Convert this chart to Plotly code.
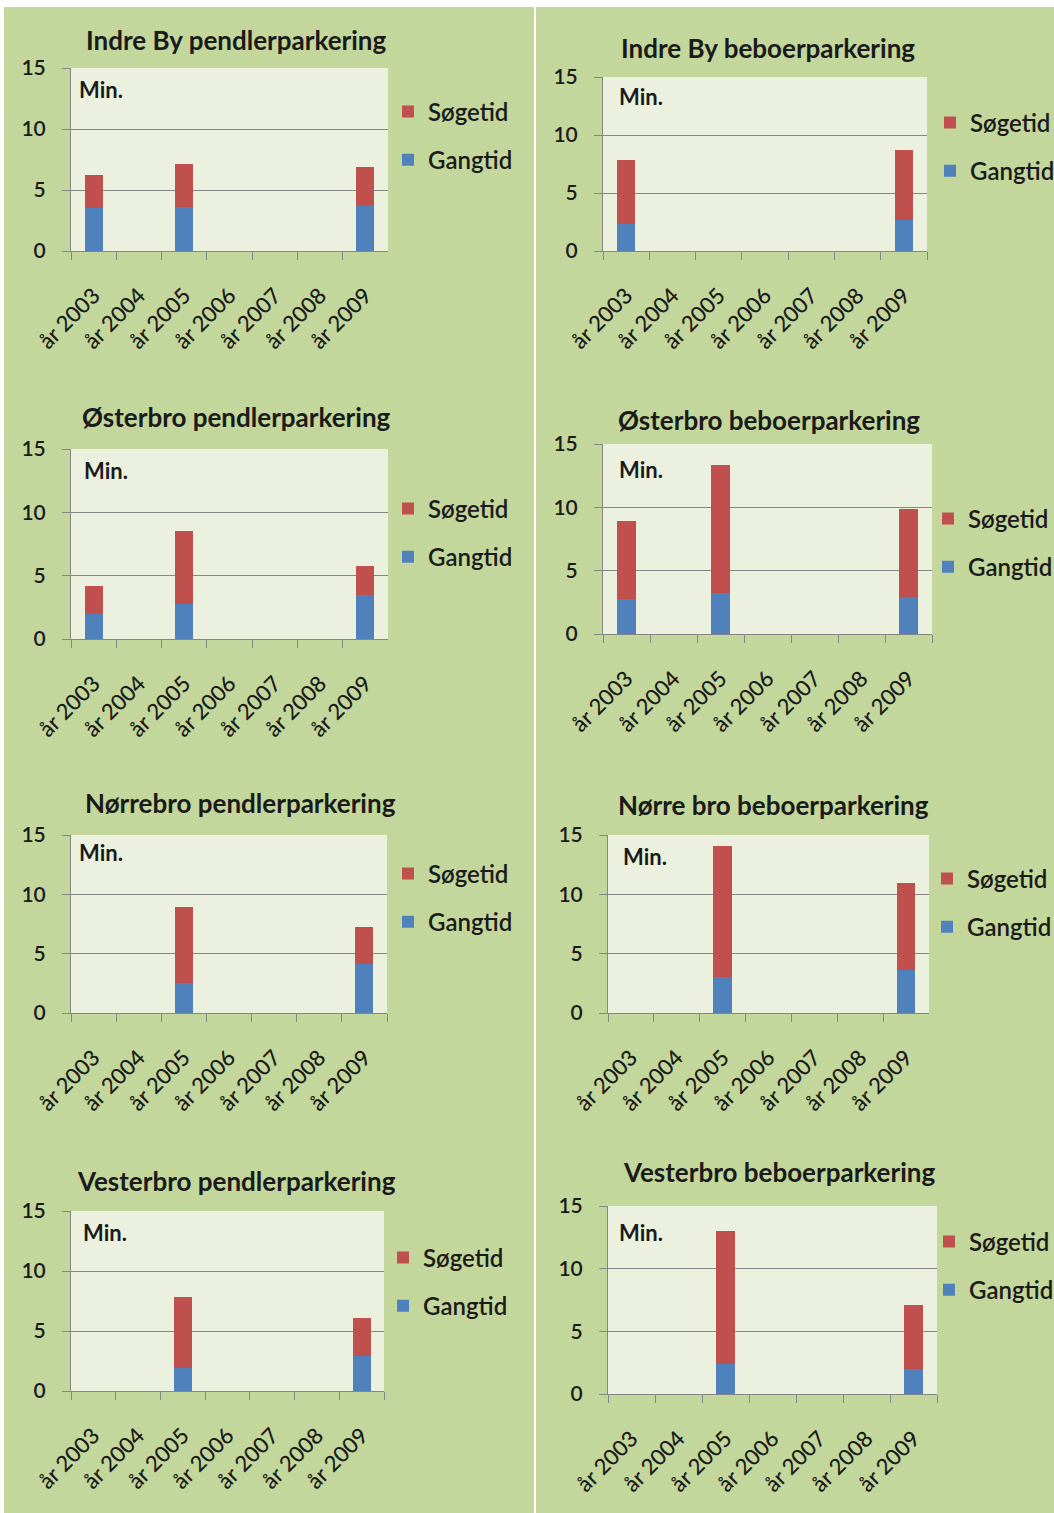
import plotly.graph_objects as go

W, H = 1054, 1513

years = ["år 2003", "år 2004", "år 2005", "år 2006", "år 2007", "år 2008", "år 2009"]

titles = [
    "Indre By pendlerparkering",
    "Indre By beboerparkering",
    "Østerbro pendlerparkering",
    "Østerbro beboerparkering",
    "Nørrebro pendlerparkering",
    "Nørre bro beboerparkering",
    "Vesterbro pendlerparkering",
    "Vesterbro beboerparkering",
]

# Gangtid (walking time) and Søgetid (search time), minutes
gang_indre_pendler = [3.5, None, 3.6, None, None, None, 3.7]
soeg_indre_pendler = [2.7, None, 3.5, None, None, None, 3.15]
gang_indre_beboer = [2.35, None, None, None, None, None, 2.7]
soeg_indre_beboer = [5.5, None, None, None, None, None, 6.05]
gang_oester_pendler = [2.0, None, 2.75, None, None, None, 3.45]
soeg_oester_pendler = [2.15, None, 5.75, None, None, None, 2.35]
gang_oester_beboer = [2.75, None, 3.25, None, None, None, 2.95]
soeg_oester_beboer = [6.15, None, 10.1, None, None, None, 6.9]
gang_noerre_pendler = [None, None, 2.5, None, None, None, 4.15]
soeg_noerre_pendler = [None, None, 6.4, None, None, None, 3.1]
gang_noerre_beboer = [None, None, 3.0, None, None, None, 3.6]
soeg_noerre_beboer = [None, None, 11.05, None, None, None, 7.35]
gang_vester_pendler = [None, None, 1.95, None, None, None, 2.9]
soeg_vester_pendler = [None, None, 5.85, None, None, None, 3.15]
gang_vester_beboer = [None, None, 2.4, None, None, None, 2.0]
soeg_vester_beboer = [None, None, 10.6, None, None, None, 5.1]

gang = [gang_indre_pendler, gang_indre_beboer, gang_oester_pendler, gang_oester_beboer,
        gang_noerre_pendler, gang_noerre_beboer, gang_vester_pendler, gang_vester_beboer]
soeg = [soeg_indre_pendler, soeg_indre_beboer, soeg_oester_pendler, soeg_oester_beboer,
        soeg_noerre_pendler, soeg_noerre_beboer, soeg_vester_pendler, soeg_vester_beboer]

y_ticks = [0, 5, 10, 15]

# layout in page pixels: plot area (x0, x1, y_top, y_bottom)
areas = [
    (71, 388, 68, 251),
    (603, 927, 77, 251),
    (71, 388, 449, 639),
    (603, 932, 444, 634),
    (71, 387, 835, 1013),
    (608, 929, 835, 1013),
    (71, 384, 1211, 1391),
    (608, 937, 1206, 1394),
]
title_pos = [(236, 40), (768, 48), (236, 417), (769, 420),
             (240, 803), (773, 805), (236, 1181), (779, 1172)]
min_pos = [(77, 89), (617, 96), (82, 470), (617, 469),
           (77, 852), (621, 856), (81, 1232), (617, 1232)]
legend_pos = [(403, 136), (945, 147), (403, 533), (943, 543),
              (403, 898), (942, 903), (398, 1282), (944, 1266)]

FONT = "Lato, 'Open Sans', sans-serif"
TXT = "#1a1a1a"
GRID = "#868686"
RED = "#C0504D"
BLUE = "#4F81BD"


def px(x):
    return x / W


def py(y):
    return 1 - y / H


fig = go.Figure()
layout = dict(
    width=W, height=H,
    margin=dict(l=0, r=0, t=0, b=0, autoexpand=False),
    paper_bgcolor="#C3D69B",
    plot_bgcolor="#EBF1DE",
    barmode="stack",
    bargap=0.6,
    font=dict(family=FONT, color=TXT),
    annotations=[],
    shapes=[],
)

for i in range(8):
    k = i + 1
    xs = "x" if k == 1 else f"x{k}"
    ys = "y" if k == 1 else f"y{k}"
    lg = "legend" if k == 1 else f"legend{k}"
    fig.add_trace(go.Bar(x=years, y=gang[i], name="Gangtid", marker=dict(color=BLUE, line=dict(width=0)),
                         xaxis=xs, yaxis=ys, legend=lg, legendgroup=f"g{k}", legendrank=2,
                         hoverinfo="skip"))
    fig.add_trace(go.Bar(x=years, y=soeg[i], name="Søgetid", marker=dict(color=RED, line=dict(width=0)),
                         xaxis=xs, yaxis=ys, legend=lg, legendgroup=f"s{k}", legendrank=1,
                         hoverinfo="skip"))
    x0, x1, yt, yb = areas[i]
    xa = "xaxis" if k == 1 else f"xaxis{k}"
    ya = "yaxis" if k == 1 else f"yaxis{k}"
    layout[xa] = dict(
        domain=[px(x0), px(x1)], anchor=ys, type="category",
        categoryorder="array", categoryarray=years, range=[-0.5, 6.5],
        showline=True, linecolor=GRID, linewidth=1,
        ticks="outside", ticklen=8, tickcolor=GRID, tickson="boundaries",
        tickangle=-45, tickfont=dict(size=22, color=TXT, family=FONT, weight=500),
        showgrid=False, zeroline=False, ticklabelstandoff=22,
    )
    layout[ya] = dict(
        domain=[py(yb), py(yt)], anchor=xs, range=[0, 15],
        tickvals=y_ticks, ticktext=[str(v) for v in y_ticks],
        showline=True, linecolor=GRID, linewidth=1,
        ticks="outside", ticklen=8, tickcolor=GRID,
        showgrid=True, gridcolor=GRID, gridwidth=1, zeroline=False,
        tickfont=dict(size=21, color=TXT, family=FONT, weight=600), ticklabelstandoff=12,
    )
    lx, lyc = legend_pos[i]
    layout[lg] = dict(
        x=px(lx - 15), y=py(lyc), xanchor="left", yanchor="middle",
        bgcolor="rgba(0,0,0,0)", font=dict(size=24, color=TXT, family=FONT, weight=600),
        traceorder="grouped", tracegroupgap=14,
    )
    tx, ty = title_pos[i]
    layout["annotations"].append(dict(
        text=f"<b>{titles[i]}</b>", x=px(tx), y=py(ty), xref="paper", yref="paper",
        xanchor="center", yanchor="middle", showarrow=False,
        font=dict(size=26, color=TXT, family=FONT)))
    mx, my = min_pos[i]
    layout["annotations"].append(dict(
        text="<b>Min.</b>", x=px(mx), y=py(my), xref="paper", yref="paper",
        xanchor="left", yanchor="middle", showarrow=False,
        font=dict(size=22, color=TXT, family=FONT)))

# white frame bands and column divider
layout["shapes"] += [
    dict(type="rect", xref="paper", yref="paper", x0=0, x1=px(4), y0=0, y1=1,
         fillcolor="white", line=dict(width=0), layer="below"),
    dict(type="rect", xref="paper", yref="paper", x0=0, x1=1, y0=py(7), y1=1,
         fillcolor="white", line=dict(width=0), layer="below"),
    dict(type="rect", xref="paper", yref="paper", x0=px(534), x1=px(536), y0=0, y1=py(7),
         fillcolor="white", line=dict(width=0), layer="below"),
]

fig.update_layout(**layout)
fig.write_html("out.html", config={"displayModeBar": False},
               post_script="document.body.style.margin='0';")
